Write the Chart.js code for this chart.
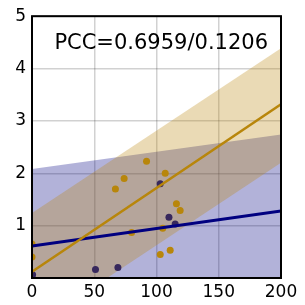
<!DOCTYPE html>
<html>
<head>
<meta charset="utf-8">
<script src="https://cdn.jsdelivr.net/npm/chart.js@4/dist/chart.umd.min.js"></script>
<style>
  html, body { margin: 0; padding: 0; background: #fff; }
  #wrap { width: 305px; height: 305px; }
</style>
</head>
<body>
<div id="wrap"><canvas id="chart"></canvas></div>
<script>
// ------------------------- DATA -------------------------
const xTicks = [0, 50, 100, 150, 200];
const yTicks = [0, 1, 2, 3, 4, 5];

// group A (gold)
const goldX = [0, 0, 67, 74, 92, 107, 116, 119, 105, 80, 103, 111];
const goldY = [0.65, 0.40, 1.70, 1.90, 2.23, 2.00, 1.42, 1.29, 0.95, 0.87, 0.45, 0.53];

// group B (purple)
const purpleX = [0.5, 51, 69, 103, 110, 115];
const purpleY = [0.06, 0.16, 0.20, 1.80, 1.16, 1.03];

// regression lines + bands, at the two ends of the x range
const fitX = [0, 200];
const goldFit = [0.12, 3.32];
const goldUpper = [1.24, 4.39];
const goldLower = [-0.95, 2.20];
const navyFit = [0.61, 1.28];
const navyUpper = [2.08, 2.74];
const navyLower = [-0.87, -0.19];

const pccLabel = "PCC=0.6959/0.1206";

const GOLD = "#b8860b";
const NAVY = "#000080";

function pts(xs, ys) {
    return xs.map((x, i) => ({ x: x, y: ys[i] }));
}

// ------------------------- FRAME + LABEL -------------------------
const framePlugin = {
    id: "frame",
    afterDraw(chart) {
        const { ctx, chartArea: a } = chart;
        ctx.save();
        ctx.strokeStyle = "#000";
        ctx.lineWidth = 2;
        ctx.strokeRect(a.left, a.top, a.right - a.left, a.bottom - a.top);

        ctx.fillStyle = "#000";
        ctx.font = "21px 'DejaVu Sans'";
        ctx.textAlign = "right";
        ctx.textBaseline = "middle";
        ctx.fillText(pccLabel, a.right - 13, a.top + 27);
        ctx.restore();
    }
};

// ------------------------- CHART -------------------------
const tickFont = { family: "'DejaVu Sans'", size: 17 };

new Chart(document.getElementById("chart"), {
    type: "scatter",
    data: {
        datasets: [
            { data: pts(fitX, goldFit), showLine: true, borderColor: GOLD, borderWidth: 2.5,
              pointRadius: 0, order: 0, clip: 0 },
            { data: pts(fitX, navyFit), showLine: true, borderColor: NAVY, borderWidth: 3,
              pointRadius: 0, order: 1, clip: 0 },
            { data: pts(goldX, goldY), backgroundColor: GOLD, borderWidth: 0,
              pointRadius: 3.5, order: 2, clip: 0 },
            { data: pts(purpleX, purpleY), backgroundColor: "#37285d", borderWidth: 0,
              pointRadius: 3.5, order: 3, clip: 0 },
            { data: pts(fitX, goldUpper), showLine: true, borderWidth: 0, pointRadius: 0,
              fill: "+1", backgroundColor: "rgba(184,134,11,0.3)", order: 4, clip: 0 },
            { data: pts(fitX, goldLower), showLine: true, borderWidth: 0, pointRadius: 0,
              order: 5, clip: 0 },
            { data: pts(fitX, navyUpper), showLine: true, borderWidth: 0, pointRadius: 0,
              fill: "+1", backgroundColor: "rgba(0,0,128,0.3)", order: 6, clip: 0 },
            { data: pts(fitX, navyLower), showLine: true, borderWidth: 0, pointRadius: 0,
              order: 7, clip: 0 }
        ]
    },
    options: {
        responsive: true,
        maintainAspectRatio: false,
        animation: false,
        layout: { padding: { top: 13, right: 24, left: 0, bottom: 0 } },
        plugins: { legend: { display: false }, tooltip: { enabled: false } },
        scales: {
            x: {
                type: "linear",
                min: xTicks[0],
                max: xTicks[xTicks.length - 1],
                afterBuildTicks: s => { s.ticks = xTicks.map(v => ({ value: v })); },
                afterFit: s => { s.height = 27; },
                grid: { color: "rgba(0,0,0,0.18)", lineWidth: 1.5, drawTicks: false },
                border: { display: false },
                ticks: { font: tickFont, color: "#000", padding: 4, maxRotation: 0 }
            },
            y: {
                type: "linear",
                min: yTicks[0],
                max: yTicks[yTicks.length - 1],
                afterBuildTicks: s => { s.ticks = yTicks.map(v => ({ value: v })); },
                afterFit: s => { s.width = 32; },
                grid: { color: "rgba(0,0,0,0.18)", lineWidth: 1.5, drawTicks: false },
                border: { display: false },
                ticks: { font: tickFont, color: "#000", padding: 6,
                         callback: v => (v === 0 ? "" : v) }
            }
        }
    },
    plugins: [framePlugin]
});
</script>
</body>
</html>
